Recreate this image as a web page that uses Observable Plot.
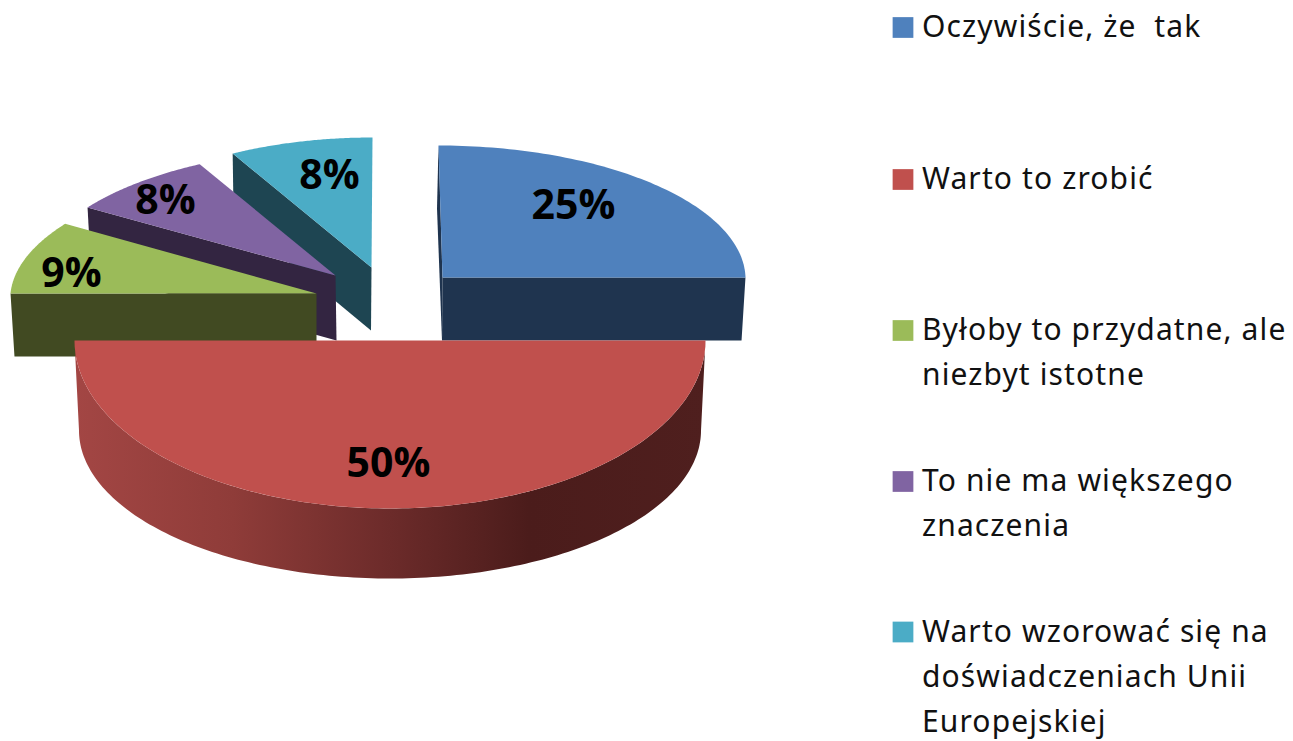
<!DOCTYPE html>
<html>
<head>
<meta charset="utf-8">
<script src="https://cdn.jsdelivr.net/npm/d3@7"></script>
<script src="https://cdn.jsdelivr.net/npm/@observablehq/plot@0.6"></script>
<style>
html,body{margin:0;padding:0;background:#fff;overflow:hidden}
.legend-text text{letter-spacing:1.12px}
</style>
</head>
<body>
<div id="chart"></div>
<script>
const categories = ["Oczywiście, że  tak", "Warto to zrobić", "Byłoby to przydatne, ale\nniezbyt istotne", "To nie ma większego\nznaczenia", "Warto wzorować się na\ndoświadczeniach Unii\nEuropejskiej"];
const values = [25, 50, 9, 8, 8];
const topColors = ["#4f81bd", "#c0504d", "#9bbb59", "#8064a2", "#4bacc6"];
const wallColors = ["#1f344f", "url(#redWall)", "#414a22", "#332541", "#1e4552"];

// Layout of each exploded slice: ellipse centre, radii and skew of the top face and the same for the base
const layout = [
  {cx: 442, cy: 277, rx: 303, ry: 132, sk: -4, bx: 441.5, by: 340, brx: 299.5, bry: 132, bsk: -5, faces: ["start", "end"], lx: 573, ly: 205},
  {cx: 389.5, cy: 340, rx: 315.5, ry: 168, sk: 0, bx: 389.5, by: 430, brx: 311, bry: 148, bsk: 0, faces: ["outer"], lx: 388, ly: 463},
  {cx: 316, cy: 293, rx: 306, ry: 130, sk: 13, bx: 316, by: 356, brx: 302, bry: 130, bsk: 13, faces: ["start"], lx: 71, ly: 273},
  {cx: 335, cy: 275, rx: 300, ry: 127, sk: 10, bx: 336, by: 340, brx: 297, bry: 127, bsk: 10, faces: ["start"], lx: 165, ly: 200},
  {cx: 371, cy: 267, rx: 290, ry: 130, sk: 1, bx: 370.5, by: 330, brx: 287, bry: 130, bsk: 1, faces: ["start"], lx: 329, ly: 175}
];
const drawOrder = [4, 3, 2, 0, 1];
const legendY = [27, 179, 330, 481, 631.5];
const legendLineStep = 45.3;

const arcs = d3.pie().sort(null).value(d => d)(values);
const topPoint = (s, a) => ({x: s.cx + s.rx * Math.sin(a) + s.sk * Math.cos(a), y: s.cy - s.ry * Math.cos(a)});
const basePoint = (s, a) => ({x: s.bx + s.brx * Math.sin(a) + s.bsk * Math.cos(a), y: s.by - s.bry * Math.cos(a)});
const sweep = (a0, a1, n = 80) => d3.range(n + 1).map(i => a0 + (a1 - a0) * i / n);

function facePolygon(s, arc, face) {
  if (face === "outer") {
    const as = sweep(arc.startAngle, arc.endAngle, 160);
    return [...as.map(a => topPoint(s, a)), ...as.slice().reverse().map(a => basePoint(s, a))];
  }
  const a = face === "start" ? arc.startAngle : arc.endAngle;
  return [{x: s.cx, y: s.cy}, topPoint(s, a), basePoint(s, a), {x: s.bx, y: s.by}];
}
const topPolygon = (s, arc) => [{x: s.cx, y: s.cy}, ...sweep(arc.startAngle, arc.endAngle).map(a => topPoint(s, a))];

const polyMark = (pts, color) => Plot.line(pts, {x: "x", y: "y", curve: "linear-closed", fill: color, stroke: "none"});

const sliceMarks = drawOrder.flatMap(i => [
  ...layout[i].faces.map(f => polyMark(facePolygon(layout[i], arcs[i], f), wallColors[i])),
  polyMark(topPolygon(layout[i], arcs[i]), topColors[i])
]);

const labels = values.map((v, i) => ({text: v + "%", x: layout[i].lx, y: layout[i].ly}));
const legendSwatches = categories.map((c, i) => ({y: legendY[i], color: topColors[i]}));
const legendLines = categories.flatMap((c, i) => c.split("\n").map((t, j) => ({t, y: legendY[i] + j * legendLineStep})));

const defs = () => {
  const d = d3.create("svg:defs");
  const g = d.append("linearGradient").attr("id", "redWall").attr("x1", 0).attr("x2", 1).attr("y1", 0).attr("y2", 0);
  [[0, "#a34644"], [0.25, "#8f3c39"], [0.5, "#6c2b2a"], [0.72, "#4b1c1b"], [1, "#4f1f1e"]]
    .forEach(([o, c]) => g.append("stop").attr("offset", o).attr("stop-color", c));
  return d.node();
};

const chart = Plot.plot({
  width: 1293,
  height: 741,
  margin: 0,
  x: {domain: [0, 1293], range: [0, 1293], axis: null},
  y: {domain: [0, 741], range: [0, 741], axis: null},
  style: {background: "#fff"},
  marks: [
    defs,
    ...sliceMarks,
    Plot.text(labels, {x: "x", y: "y", text: "text", fontFamily: "Open Sans", fontWeight: 700, fontSize: 41, fill: "#000"}),
    Plot.dot(legendSwatches, {x: () => 902.5, y: "y", r: 11.7, symbol: "square", fill: "color", stroke: "none"}),
    Plot.text(legendLines, {x: () => 921.5, y: "y", text: "t", textAnchor: "start", fontFamily: "Noto Sans", fontSize: 30, fill: "#111", className: "legend-text"})
  ]
});
document.getElementById("chart").appendChild(chart);
</script>
</body>
</html>
